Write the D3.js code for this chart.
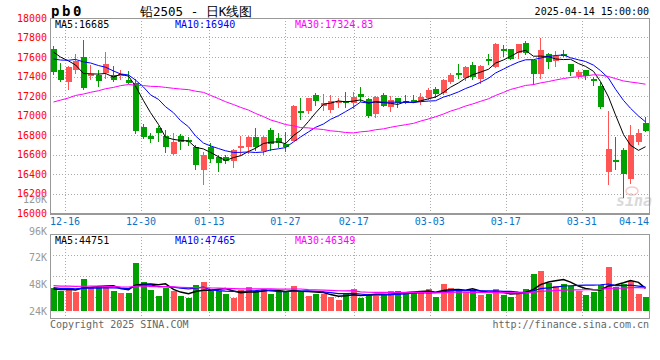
<!DOCTYPE html>
<html><head><meta charset="utf-8">
<script src="https://cdn.jsdelivr.net/npm/d3@7"></script>
<style>
body{margin:0;background:#fff}
svg{display:block}
text{font-family:"DejaVu Sans Mono","Liberation Mono",monospace}
</style>
</head><body>
<svg id="chart" width="660" height="360"></svg>
<script>
const dates = ["12-12","12-13","12-16","12-17","12-18","12-19","12-20","12-23","12-24","12-25","12-26","12-27","12-30","12-31",
"01-02","01-03","01-06","01-07","01-08","01-09","01-10","01-13","01-14","01-15","01-16","01-17","01-20","01-21","01-22","01-23","01-24","01-27",
"02-05","02-06","02-07","02-10","02-11","02-12","02-13","02-14","02-17","02-18","02-19","02-20","02-21","02-24","02-25","02-26","02-27","02-28",
"03-03","03-04","03-05","03-06","03-07","03-10","03-11","03-12","03-13","03-14","03-17","03-18","03-19","03-20","03-21","03-24","03-25","03-26","03-27","03-28","03-31",
"04-01","04-02","04-03","04-07","04-08","04-09","04-10","04-11","04-14"];
const open = [17685,17464,17345,17471,17600,17413,17413,17437,17413,17413,17362,17335,16886,16791,16869,16791,16607,16791,16750,16682,
16437,16675,16570,16570,16529,16672,16675,16777,16641,16852,16767,16709,16743,17049,17049,17209,17097,17056,17131,17148,
17124,17219,17165,17015,17209,17083,17175,17151,17158,17134,17175,17270,17226,17345,17440,17386,17515,17379,17576,17498,
17678,17678,17641,17746,17566,17430,17634,17556,17627,17525,17406,17464,17372,17301,16417,16546,16648,16349,16732,16926];
const high = [17712,17539,17505,17627,17770,17515,17464,17651,17505,17471,17457,17379,16910,16825,16893,16852,16818,16811,16777,16699,
16624,16723,16597,16600,16655,16791,16791,16869,16791,16869,16818,16835,17107,17175,17180,17233,17219,17209,17175,17243,
17243,17294,17175,17195,17233,17199,17180,17209,17209,17226,17287,17294,17379,17437,17525,17505,17549,17515,17634,17746,
17719,17685,17736,17760,17573,17797,17641,17661,17668,17532,17464,17471,17396,17345,17049,16777,16665,16905,16859,16985];
const low = [17420,17345,17260,17430,17260,17362,17294,17379,17345,17362,17328,16811,16757,16716,16733,16614,16600,16648,16689,16444,
16291,16512,16417,16500,16461,16580,16607,16631,16597,16641,16665,16621,16740,16954,17015,17097,17049,17022,17080,17073,
17063,17141,16971,16971,17083,17039,17073,17117,17124,17107,17158,17175,17209,17318,17379,17355,17369,17328,17522,17491,
17600,17566,17583,17617,17311,17372,17481,17498,17600,17403,17379,17369,17301,17063,16291,16440,16155,16301,16695,16834];
const close = [17447,17369,17498,17556,17284,17430,17355,17532,17369,17427,17335,16845,16784,16757,16818,16682,16733,16733,16726,16495,
16597,16556,16512,16530,16648,16689,16777,16675,16777,16709,16716,16675,17097,17032,17175,17151,17124,17151,17148,17124,
17192,17185,16995,17192,17097,17158,17124,17134,17145,17192,17260,17216,17369,17413,17413,17498,17396,17505,17559,17729,
17661,17576,17729,17644,17430,17668,17549,17610,17610,17447,17447,17406,17355,17083,16658,16529,16403,16801,16821,16845];
const volume = [44430,42270,43800,41370,52800,45870,46500,46500,42270,40470,40470,67470,49830,42900,37770,44430,42270,37770,35970,47400,
49830,42270,42270,39300,35970,42630,45600,42000,43800,39300,41370,41370,46500,40830,37500,39300,39300,36870,33900,39030,
43800,35970,39300,37500,39300,42000,42000,40830,40830,42000,43800,36870,48300,44970,42900,40830,42900,38400,39300,43800,
38400,36870,40830,43800,57300,60000,48930,46500,48500,46200,41700,38400,41370,47400,63870,45870,48600,51100,39300,36700];
// closes / volumes of the 29 sessions before the first visible one (only feed the moving averages)
const priorCloses = [16800,16830,16780,16850,16900,16870,16920,16950,16900,16980,17030,16925,16985,16895,16935,17015,16955,16915,16965,16955,
17480,17520,17470,17537,17543,17620,17700,17760,17723];
const priorVolumes = [52000,45000,48000,50000,44000,47000,51000,46000,49000,45000,48000,47000,50000,46000,44000,48000,49000,46000,47100,51000,
48000,44000,47000,45000,47000,45000,42000,44570,43000];
const priceTicks = [16000,16200,16400,16600,16800,17000,17200,17400,17600,17800,18000];
const volTicks = [120000,96000,72000,48000,24000];
const volTickLabels = ["120K","96K","72K","48K","24K"];
const labelIdx = [2,12,21,31,40,50,60,70,79];
const maPeriods = [5,10,30];
const maColors = ["#000000","#0000ff","#ff00ff"];
const priceLegend = ["MA5:16685","MA10:16940","MA30:17324.83"];
const volLegend = ["MA5:44751","MA10:47465","MA30:46349"];

const svg = d3.select("#chart");
const L = 50, R = 650, mainTop = 18, mainBot = 213, volTop = 234, volBot = 318;
const n = close.length;
const up = "#ff5555", down = "#00a000", gridC = "#aaaaaa", borderC = "#999999";

const xSlot = d3.scaleLinear().domain([0, n]).range([L, R]);
const xGrid = d3.scaleLinear().domain([0, n]).range([L - 0.2, L - 0.2 + 7.6 * n]);
const y = d3.scaleLinear().domain([16000, 18000]).range([mainBot, mainTop]);
const yv = d3.scaleLinear().domain([24000, 96000]).range([311, 231]);
const bx = i => Math.round(xSlot(i) + 0.5);
const cx = i => bx(i) + 3;

function movingAvg(arr, prior, p) {
  const all = prior.concat(arr), off = prior.length;
  return arr.map((_, i) => d3.mean(all.slice(off + i - p + 1, off + i + 1)));
}

// header
svg.append("text").attr("x", 51).attr("y", 16).attr("font-size", 14).attr("font-weight", "bold")
  .attr("letter-spacing", 2.6).text("pb0");
svg.append("text").attr("x", 140).attr("y", 16).attr("font-size", 12.5)
  .attr("font-family", "'Noto Sans CJK SC',sans-serif").text("铅2505 - 日K线图");
svg.append("text").attr("x", 649).attr("y", 15).attr("font-size", 10).attr("text-anchor", "end")
  .text("2025-04-14 15:00:00");

// grids
const g = svg.append("g").attr("shape-rendering", "crispEdges");
g.selectAll(".hg").data(priceTicks.filter(t => t > 16000 && t < 18000)).join("line")
  .attr("x1", L).attr("x2", R).attr("y1", d => Math.round(y(d)) + 0.5).attr("y2", d => Math.round(y(d)) + 0.5)
  .attr("stroke", gridC).attr("stroke-dasharray", "1,2");
const gridIdx = labelIdx.filter(i => xGrid(i) < R - 2);
[[mainTop, mainBot], [volTop, volBot]].forEach(([t, b]) => {
  g.append("g").selectAll("line").data(gridIdx).join("line")
    .attr("x1", d => Math.round(xGrid(d)) + 0.5).attr("x2", d => Math.round(xGrid(d)) + 0.5)
    .attr("y1", t).attr("y2", b).attr("stroke", gridC).attr("stroke-dasharray", "1,2");
});
g.append("g").selectAll("line").data([1, 2, 3]).join("line")
  .attr("x1", L).attr("x2", R)
  .attr("y1", d => Math.round(volTop + (volBot - volTop) * d / 4) + 0.5)
  .attr("y2", d => Math.round(volTop + (volBot - volTop) * d / 4) + 0.5)
  .attr("stroke", gridC).attr("stroke-dasharray", "1,2");

// watermark
const wm = svg.append("g").attr("opacity", 0.55);
wm.append("ellipse").attr("cx", 632).attr("cy", 191).attr("rx", 6).attr("ry", 4).attr("fill", "none").attr("stroke", "#f0a0a0").attr("stroke-width", 1.5);
wm.append("text").attr("x", 616).attr("y", 206).attr("font-size", 15).attr("font-style", "italic").attr("font-weight", "bold")
  .attr("font-family", "Arial,'Liberation Sans',sans-serif").attr("fill", "#bbbbbb").text("sina");

// candles
const cg = svg.append("g").attr("shape-rendering", "crispEdges");
const idx = d3.range(n);
const col = i => close[i] >= open[i] ? up : down;
cg.selectAll(".wick").data(idx).join("rect")
  .attr("x", i => cx(i) - 1).attr("width", 1)
  .attr("y", i => Math.round(y(high[i]))).attr("height", i => Math.max(1, Math.round(y(low[i])) - Math.round(y(high[i]))))
  .attr("fill", col);
cg.selectAll(".body").data(idx).join("rect")
  .attr("x", i => bx(i)).attr("width", 6)
  .attr("y", i => Math.round(y(Math.max(open[i], close[i]))))
  .attr("height", i => Math.max(2, Math.round(y(Math.min(open[i], close[i]))) - Math.round(y(Math.max(open[i], close[i])))))
  .attr("fill", col);

// price MAs
maPeriods.forEach((p, k) => {
  const ma = movingAvg(close, priorCloses, p);
  svg.append("path").datum(ma).attr("fill", "none").attr("stroke", maColors[k]).attr("stroke-width", 1)
    .attr("d", d3.line().x((d, i) => cx(i) - 0.5).y(d => y(d)));
});

// volume bars
const vg = svg.append("g").attr("shape-rendering", "crispEdges");
vg.selectAll("rect").data(idx).join("rect")
  .attr("x", i => bx(i)).attr("width", 6)
  .attr("y", i => Math.round(yv(volume[i]))).attr("height", i => Math.round(yv(24000)) - Math.round(yv(volume[i])))
  .attr("fill", col);
maPeriods.forEach((p, k) => {
  const ma = movingAvg(volume, priorVolumes, p);
  svg.append("path").datum(ma).attr("fill", "none").attr("stroke", maColors[k]).attr("stroke-width", k === 0 ? 1.5 : 1.2)
    .attr("d", d3.line().x((d, i) => cx(i) - 0.5).y(d => yv(d)));
});

// borders
const bg = svg.append("g").attr("shape-rendering", "crispEdges").attr("fill", "none").attr("stroke", borderC);
bg.append("rect").attr("x", L + 0.5).attr("y", mainTop + 0.5).attr("width", R - L - 1).attr("height", mainBot - mainTop);
bg.append("rect").attr("x", L + 0.5).attr("y", volTop + 0.5).attr("width", R - L - 1).attr("height", volBot - volTop);
bg.append("line").attr("x1", L).attr("x2", R).attr("y1", mainBot + 1.5).attr("y2", mainBot + 1.5);

// y axis labels
svg.append("g").selectAll("text").data(priceTicks).join("text")
  .attr("x", 47).attr("y", d => y(d)).attr("dy", "0.36em").attr("text-anchor", "end")
  .attr("font-size", 10).attr("fill", "#ff0000").text(d => d);
svg.append("g").selectAll("text").data(volTicks).join("text")
  .attr("x", 47).attr("y", d => yv(d) < volTop - 8 ? yv(d) - 4.5 : yv(d)).attr("dy", "0.36em").attr("text-anchor", "end")
  .attr("font-size", 10).attr("fill", "#999999").text((d, i) => volTickLabels[i]);

// x labels
svg.append("g").selectAll("text").data(labelIdx).join("text")
  .attr("x", d => d === n - 1 ? R - 1 : xGrid(d))
  .attr("y", 221).attr("dy", "0.36em")
  .attr("text-anchor", d => d === n - 1 ? "end" : "middle")
  .attr("font-size", 10).attr("fill", "#0a74c9").text(d => dates[d]);

// legends
[[priceLegend, 24], [volLegend, 240]].forEach(([lg, yy]) => {
  svg.append("g").selectAll("text").data(lg).join("text")
    .attr("x", (d, i) => 55 + i * 120).attr("y", yy).attr("dy", "0.36em")
    .attr("font-size", 10).attr("fill", (d, i) => maColors[i]).text(d => d);
});

// footer
svg.append("text").attr("x", 50).attr("y", 324).attr("dy", "0.36em").attr("font-size", 10).attr("fill", "#666666")
  .text("Copyright 2025 SINA.COM");
svg.append("text").attr("x", 649).attr("y", 324).attr("dy", "0.36em").attr("font-size", 10).attr("fill", "#666666")
  .attr("text-anchor", "end").text("http://finance.sina.com.cn");
</script>
</body></html>
